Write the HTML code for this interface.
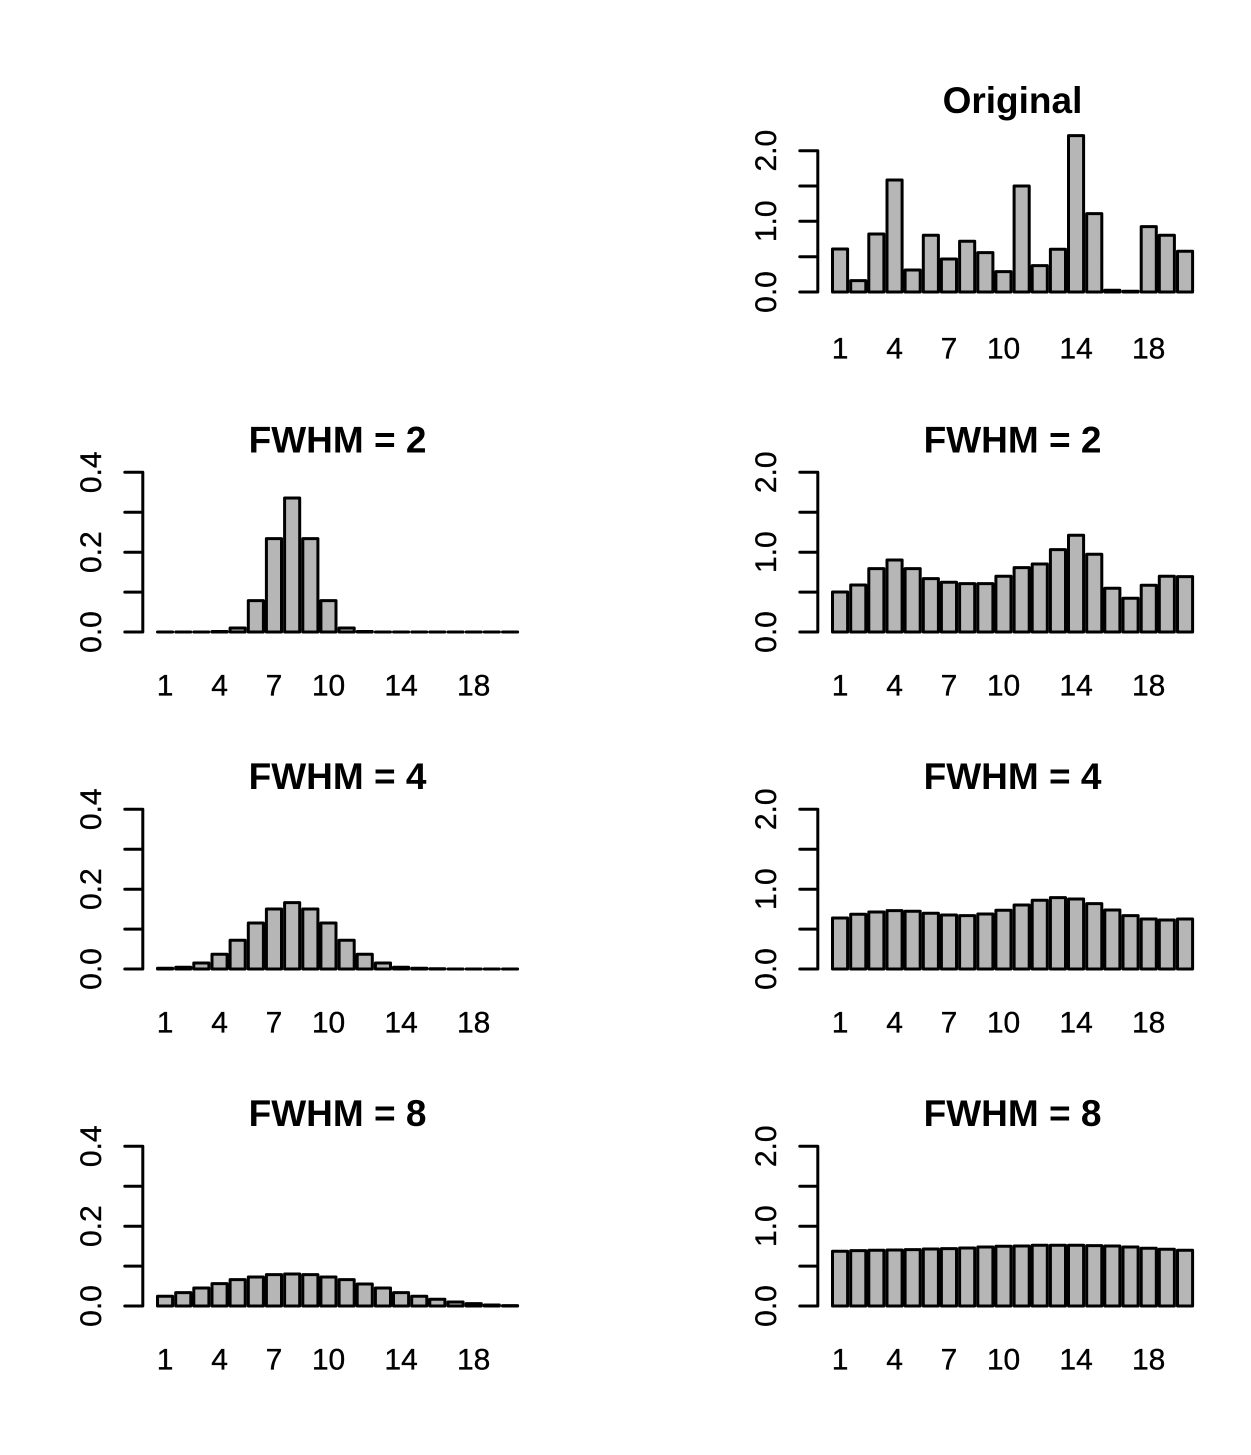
<!DOCTYPE html>
<html>
<head>
<meta charset="utf-8">
<style>
  html, body { margin: 0; padding: 0; background: #ffffff; }
  svg { display: block; }
  .lab { font-family: "Liberation Sans", Arial, sans-serif; font-size: 30px; fill: #000; stroke: #000; stroke-width: 0.35; }
  .ttl { font-family: "Liberation Sans", Arial, sans-serif; font-size: 37px; font-weight: bold; fill: #000; }
  .bars { fill: #b6b6b6; stroke: #000; stroke-width: 3; stroke-linejoin: round; }
  .ax { fill: none; stroke: #000; stroke-width: 3; stroke-linecap: round; }
</style>
</head>
<body>
<svg width="1251" height="1455" viewBox="0 0 1251 1455" xmlns="http://www.w3.org/2000/svg">
<rect x="0" y="0" width="1251" height="1455" fill="#ffffff"/>

<!-- ================= Row 1 right: Original ================= -->
<text class="ttl" x="1012.5" y="113" text-anchor="middle">Original</text>
<path class="bars" d="M832.5 292V249H847.6V292Z M850.7 292V280.6H865.8V292Z M868.8 292V234H883.9V292Z M887 292V180H902.1V292Z M905.1 292V270H920.2V292Z M923.3 292V235.3H938.4V292Z M941.4 292V259H956.5V292Z M959.6 292V241.3H974.7V292Z M977.8 292V252.6H992.9V292Z M995.9 292V271.6H1011V292Z M1014.1 292V186H1029.2V292Z M1032.2 292V265.6H1047.3V292Z M1050.4 292V249.3H1065.5V292Z M1068.5 292V135.6H1083.6V292Z M1086.7 292V213.6H1101.8V292Z M1104.8 292V290.3H1119.9V292Z M1123 292V291.2H1138.1V292Z M1141.2 292V226.6H1156.3V292Z M1159.3 292V235.3H1174.4V292Z M1177.5 292V251.3H1192.6V292Z"/>
<path class="ax" d="M817.8 150.7V292 M799.8 292H817.8 M799.8 256.7H817.8 M799.8 221.3H817.8 M799.8 186H817.8 M799.8 150.7H817.8"/>
<text class="lab" transform="translate(776,292) rotate(-90)" text-anchor="middle">0.0</text>
<text class="lab" transform="translate(776,221.3) rotate(-90)" text-anchor="middle">1.0</text>
<text class="lab" transform="translate(776,150.7) rotate(-90)" text-anchor="middle">2.0</text>
<text class="lab" x="840.1" y="358.3" text-anchor="middle">1</text>
<text class="lab" x="894.6" y="358.3" text-anchor="middle">4</text>
<text class="lab" x="949" y="358.3" text-anchor="middle">7</text>
<text class="lab" x="1003.5" y="358.3" text-anchor="middle">10</text>
<text class="lab" x="1076.1" y="358.3" text-anchor="middle">14</text>
<text class="lab" x="1148.7" y="358.3" text-anchor="middle">18</text>

<!-- ================= Row 2 left: FWHM = 2 kernel ================= -->
<text class="ttl" x="337.5" y="452.3" text-anchor="middle">FWHM = 2</text>
<path class="bars" d="M157.5 632V632H172.6V632Z M175.7 632V632H190.8V632Z M193.8 632V632H208.9V632Z M212 632V631.5H227.1V632Z M230.1 632V628H245.2V632Z M248.3 632V600.6H263.4V632Z M266.4 632V538.6H281.5V632Z M284.6 632V498H299.7V632Z M302.8 632V538.6H317.9V632Z M320.9 632V600.6H336V632Z M339.1 632V628H354.2V632Z M357.2 632V631.5H372.3V632Z M375.4 632V632H390.5V632Z M393.5 632V632H408.6V632Z M411.7 632V632H426.8V632Z M429.8 632V632H444.9V632Z M448 632V632H463.1V632Z M466.2 632V632H481.3V632Z M484.3 632V632H499.4V632Z M502.5 632V632H517.6V632Z"/>
<path class="ax" d="M142.8 472.3V632 M124.8 632H142.8 M124.8 592.1H142.8 M124.8 552.2H142.8 M124.8 512.2H142.8 M124.8 472.3H142.8"/>
<text class="lab" transform="translate(101,632) rotate(-90)" text-anchor="middle">0.0</text>
<text class="lab" transform="translate(101,552.2) rotate(-90)" text-anchor="middle">0.2</text>
<text class="lab" transform="translate(101,472.3) rotate(-90)" text-anchor="middle">0.4</text>
<text class="lab" x="165.1" y="695.7" text-anchor="middle">1</text>
<text class="lab" x="219.6" y="695.7" text-anchor="middle">4</text>
<text class="lab" x="274" y="695.7" text-anchor="middle">7</text>
<text class="lab" x="328.5" y="695.7" text-anchor="middle">10</text>
<text class="lab" x="401.1" y="695.7" text-anchor="middle">14</text>
<text class="lab" x="473.7" y="695.7" text-anchor="middle">18</text>

<!-- ================= Row 2 right: FWHM = 2 smoothed ================= -->
<text class="ttl" x="1012.5" y="452.3" text-anchor="middle">FWHM = 2</text>
<path class="bars" d="M832.5 632V592H847.6V632Z M850.7 632V585H865.8V632Z M868.8 632V568.6H883.9V632Z M887 632V560H902.1V632Z M905.1 632V568.6H920.2V632Z M923.3 632V578.6H938.4V632Z M941.4 632V582.3H956.5V632Z M959.6 632V583.6H974.7V632Z M977.8 632V583.6H992.9V632Z M995.9 632V576.3H1011V632Z M1014.1 632V567.6H1029.2V632Z M1032.2 632V564H1047.3V632Z M1050.4 632V549.6H1065.5V632Z M1068.5 632V535.3H1083.6V632Z M1086.7 632V554.3H1101.8V632Z M1104.8 632V588.3H1119.9V632Z M1123 632V598.3H1138.1V632Z M1141.2 632V585.3H1156.3V632Z M1159.3 632V576.3H1174.4V632Z M1177.5 632V576.6H1192.6V632Z"/>
<path class="ax" d="M817.8 472.3V632 M799.8 632H817.8 M799.8 592.1H817.8 M799.8 552.2H817.8 M799.8 512.2H817.8 M799.8 472.3H817.8"/>
<text class="lab" transform="translate(776,632) rotate(-90)" text-anchor="middle">0.0</text>
<text class="lab" transform="translate(776,552.2) rotate(-90)" text-anchor="middle">1.0</text>
<text class="lab" transform="translate(776,472.3) rotate(-90)" text-anchor="middle">2.0</text>
<text class="lab" x="840.1" y="695.7" text-anchor="middle">1</text>
<text class="lab" x="894.6" y="695.7" text-anchor="middle">4</text>
<text class="lab" x="949" y="695.7" text-anchor="middle">7</text>
<text class="lab" x="1003.5" y="695.7" text-anchor="middle">10</text>
<text class="lab" x="1076.1" y="695.7" text-anchor="middle">14</text>
<text class="lab" x="1148.7" y="695.7" text-anchor="middle">18</text>

<!-- ================= Row 3 left: FWHM = 4 kernel ================= -->
<text class="ttl" x="337.5" y="789" text-anchor="middle">FWHM = 4</text>
<path class="bars" d="M157.5 969V968.2H172.6V969Z M175.7 969V967.3H190.8V969Z M193.8 969V963H208.9V969Z M212 969V954.3H227.1V969Z M230.1 969V940.3H245.2V969Z M248.3 969V923H263.4V969Z M266.4 969V909H281.5V969Z M284.6 969V902.6H299.7V969Z M302.8 969V909H317.9V969Z M320.9 969V923H336V969Z M339.1 969V940.3H354.2V969Z M357.2 969V954.3H372.3V969Z M375.4 969V963H390.5V969Z M393.5 969V967.3H408.6V969Z M411.7 969V968.2H426.8V969Z M429.8 969V968.8H444.9V969Z M448 969V969H463.1V969Z M466.2 969V969H481.3V969Z M484.3 969V969H499.4V969Z M502.5 969V969H517.6V969Z"/>
<path class="ax" d="M142.8 809.3V969 M124.8 969H142.8 M124.8 929.1H142.8 M124.8 889.2H142.8 M124.8 849.2H142.8 M124.8 809.3H142.8"/>
<text class="lab" transform="translate(101,969) rotate(-90)" text-anchor="middle">0.0</text>
<text class="lab" transform="translate(101,889.2) rotate(-90)" text-anchor="middle">0.2</text>
<text class="lab" transform="translate(101,809.3) rotate(-90)" text-anchor="middle">0.4</text>
<text class="lab" x="165.1" y="1032.7" text-anchor="middle">1</text>
<text class="lab" x="219.6" y="1032.7" text-anchor="middle">4</text>
<text class="lab" x="274" y="1032.7" text-anchor="middle">7</text>
<text class="lab" x="328.5" y="1032.7" text-anchor="middle">10</text>
<text class="lab" x="401.1" y="1032.7" text-anchor="middle">14</text>
<text class="lab" x="473.7" y="1032.7" text-anchor="middle">18</text>

<!-- ================= Row 3 right: FWHM = 4 smoothed ================= -->
<text class="ttl" x="1012.5" y="789" text-anchor="middle">FWHM = 4</text>
<path class="bars" d="M832.5 969V918H847.6V969Z M850.7 969V914.3H865.8V969Z M868.8 969V912H883.9V969Z M887 969V910.6H902.1V969Z M905.1 969V911.3H920.2V969Z M923.3 969V913.3H938.4V969Z M941.4 969V915H956.5V969Z M959.6 969V915.6H974.7V969Z M977.8 969V914H992.9V969Z M995.9 969V910.3H1011V969Z M1014.1 969V905H1029.2V969Z M1032.2 969V900.3H1047.3V969Z M1050.4 969V897.6H1065.5V969Z M1068.5 969V899H1083.6V969Z M1086.7 969V903.6H1101.8V969Z M1104.8 969V910H1119.9V969Z M1123 969V915.6H1138.1V969Z M1141.2 969V919H1156.3V969Z M1159.3 969V920H1174.4V969Z M1177.5 969V919H1192.6V969Z"/>
<path class="ax" d="M817.8 809.3V969 M799.8 969H817.8 M799.8 929.1H817.8 M799.8 889.2H817.8 M799.8 849.2H817.8 M799.8 809.3H817.8"/>
<text class="lab" transform="translate(776,969) rotate(-90)" text-anchor="middle">0.0</text>
<text class="lab" transform="translate(776,889.2) rotate(-90)" text-anchor="middle">1.0</text>
<text class="lab" transform="translate(776,809.3) rotate(-90)" text-anchor="middle">2.0</text>
<text class="lab" x="840.1" y="1032.7" text-anchor="middle">1</text>
<text class="lab" x="894.6" y="1032.7" text-anchor="middle">4</text>
<text class="lab" x="949" y="1032.7" text-anchor="middle">7</text>
<text class="lab" x="1003.5" y="1032.7" text-anchor="middle">10</text>
<text class="lab" x="1076.1" y="1032.7" text-anchor="middle">14</text>
<text class="lab" x="1148.7" y="1032.7" text-anchor="middle">18</text>

<!-- ================= Row 4 left: FWHM = 8 kernel ================= -->
<text class="ttl" x="337.5" y="1126" text-anchor="middle">FWHM = 8</text>
<path class="bars" d="M157.5 1306V1296.3H172.6V1306Z M175.7 1306V1292.6H190.8V1306Z M193.8 1306V1288H208.9V1306Z M212 1306V1283.6H227.1V1306Z M230.1 1306V1279.6H245.2V1306Z M248.3 1306V1277H263.4V1306Z M266.4 1306V1274.6H281.5V1306Z M284.6 1306V1274H299.7V1306Z M302.8 1306V1274.6H317.9V1306Z M320.9 1306V1277H336V1306Z M339.1 1306V1279.6H354.2V1306Z M357.2 1306V1284H372.3V1306Z M375.4 1306V1288H390.5V1306Z M393.5 1306V1292.6H408.6V1306Z M411.7 1306V1296.3H426.8V1306Z M429.8 1306V1299.3H444.9V1306Z M448 1306V1302H463.1V1306Z M466.2 1306V1303.6H481.3V1306Z M484.3 1306V1305H499.4V1306Z M502.5 1306V1305.6H517.6V1306Z"/>
<path class="ax" d="M142.8 1146.3V1306 M124.8 1306H142.8 M124.8 1266.1H142.8 M124.8 1226.2H142.8 M124.8 1186.2H142.8 M124.8 1146.3H142.8"/>
<text class="lab" transform="translate(101,1306) rotate(-90)" text-anchor="middle">0.0</text>
<text class="lab" transform="translate(101,1226.2) rotate(-90)" text-anchor="middle">0.2</text>
<text class="lab" transform="translate(101,1146.3) rotate(-90)" text-anchor="middle">0.4</text>
<text class="lab" x="165.1" y="1369.7" text-anchor="middle">1</text>
<text class="lab" x="219.6" y="1369.7" text-anchor="middle">4</text>
<text class="lab" x="274" y="1369.7" text-anchor="middle">7</text>
<text class="lab" x="328.5" y="1369.7" text-anchor="middle">10</text>
<text class="lab" x="401.1" y="1369.7" text-anchor="middle">14</text>
<text class="lab" x="473.7" y="1369.7" text-anchor="middle">18</text>

<!-- ================= Row 4 right: FWHM = 8 smoothed ================= -->
<text class="ttl" x="1012.5" y="1126" text-anchor="middle">FWHM = 8</text>
<path class="bars" d="M832.5 1306V1251.3H847.6V1306Z M850.7 1306V1250.6H865.8V1306Z M868.8 1306V1250.3H883.9V1306Z M887 1306V1250H902.1V1306Z M905.1 1306V1249.6H920.2V1306Z M923.3 1306V1249H938.4V1306Z M941.4 1306V1248.6H956.5V1306Z M959.6 1306V1248H974.7V1306Z M977.8 1306V1247H992.9V1306Z M995.9 1306V1246.3H1011V1306Z M1014.1 1306V1246H1029.2V1306Z M1032.2 1306V1245.3H1047.3V1306Z M1050.4 1306V1245.3H1065.5V1306Z M1068.5 1306V1245.3H1083.6V1306Z M1086.7 1306V1245.6H1101.8V1306Z M1104.8 1306V1246H1119.9V1306Z M1123 1306V1247H1138.1V1306Z M1141.2 1306V1248.3H1156.3V1306Z M1159.3 1306V1249.3H1174.4V1306Z M1177.5 1306V1250.3H1192.6V1306Z"/>
<path class="ax" d="M817.8 1146.3V1306 M799.8 1306H817.8 M799.8 1266.1H817.8 M799.8 1226.2H817.8 M799.8 1186.2H817.8 M799.8 1146.3H817.8"/>
<text class="lab" transform="translate(776,1306) rotate(-90)" text-anchor="middle">0.0</text>
<text class="lab" transform="translate(776,1226.2) rotate(-90)" text-anchor="middle">1.0</text>
<text class="lab" transform="translate(776,1146.3) rotate(-90)" text-anchor="middle">2.0</text>
<text class="lab" x="840.1" y="1369.7" text-anchor="middle">1</text>
<text class="lab" x="894.6" y="1369.7" text-anchor="middle">4</text>
<text class="lab" x="949" y="1369.7" text-anchor="middle">7</text>
<text class="lab" x="1003.5" y="1369.7" text-anchor="middle">10</text>
<text class="lab" x="1076.1" y="1369.7" text-anchor="middle">14</text>
<text class="lab" x="1148.7" y="1369.7" text-anchor="middle">18</text>
</svg>
</body>
</html>
